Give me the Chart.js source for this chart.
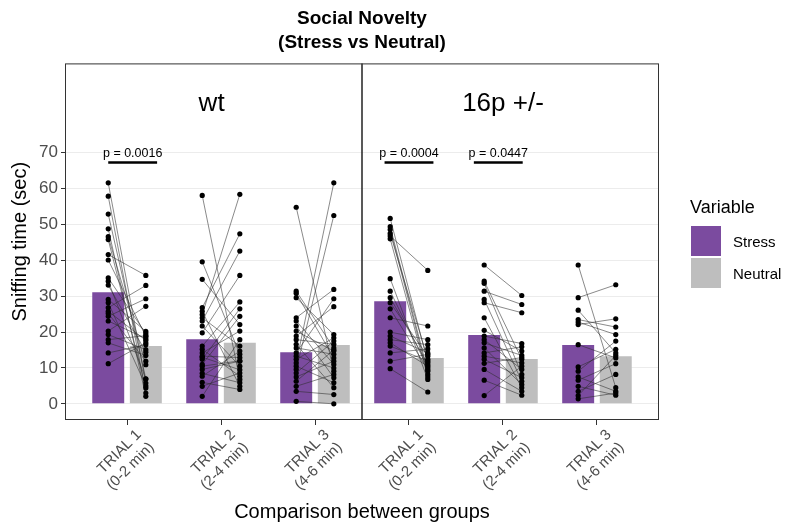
<!DOCTYPE html>
<html>
<head>
<meta charset="utf-8">
<title>Social Novelty (Stress vs Neutral)</title>
<script src="https://cdn.jsdelivr.net/npm/chart.js@4.4.0/dist/chart.umd.min.js"></script>
<style>
  body { margin: 0; background: #fff; }
  #wrap { position: relative; width: 785px; height: 529px; font-family: "Liberation Sans", Arial, sans-serif; }
  #legend { position: absolute; left: 690px; top: 196px; color: #000; }
  #legend .ltitle { font-size: 18px; line-height: 22px; height: 30px; }
  #legend .item { display: flex; align-items: center; height: 30px; margin-bottom: 2px; font-size: 15px; }
  #legend .key { width: 30px; height: 30px; margin-left: 1px; margin-right: 12px; }
</style>
</head>
<body>
<div id="wrap">
  <canvas id="chart" width="785" height="529"></canvas>
  <div id="legend">
    <div class="ltitle">Variable</div>
    <div class="item"><span class="key" id="keyStress"></span>Stress</div>
    <div class="item"><span class="key" id="keyNeutral"></span>Neutral</div>
  </div>
</div>
<script>
// x categories (3 trials per genotype)
const trialLabels = [
  ['TRIAL 1', '(0-2 min)'], ['TRIAL 2', '(2-4 min)'], ['TRIAL 3', '(4-6 min)'],
  ['TRIAL 1', '(0-2 min)'], ['TRIAL 2', '(2-4 min)'], ['TRIAL 3', '(4-6 min)']
];
const groups = ['wt', '16p +/-'];
const groupX = [1.9, 5];
const groupY = 83.5;
const yTicks = [0, 10, 20, 30, 40, 50, 60, 70];

// bar heights (group means)
const meanStress = [31.1, 18.0, 14.4, 28.6, 19.2, 16.4];
const meanNeutral = [16.1, 17.0, 16.4, 12.8, 12.5, 13.3];

// individual animals, stress[i] paired with neutral[i]
const wtT1Stress = [61.6, 57.9, 52.9, 48.8, 46.6, 45.8, 41.6, 40.1, 35.1, 34.2, 33.1, 29.1, 28.2, 26.8, 25.8, 25.2, 24.4, 23.1, 20.3, 19.3, 17.9, 17.0, 14.2, 11.2];
const wtT1Neutral = [5.8, 3.0, 7.0, 2.1, 10.9, 4.4, 35.8, 18.8, 19.6, 6.9, 14.4, 20.2, 5.0, 33.0, 17.7, 11.9, 29.3, 18.2, 27.2, 15.1, 19.0, 13.5, 16.5, 17.0];
const wtT2Stress = [58.1, 39.6, 34.7, 26.8, 25.8, 24.9, 24.0, 23.1, 21.7, 19.8, 16.1, 15.2, 14.2, 13.3, 12.4, 11.0, 9.6, 7.7, 4.9, 2.1, 8.5, 6.0, 13.0, 10.5];
const wtT2Neutral = [6.8, 13.8, 22.1, 47.4, 4.9, 58.4, 16.1, 42.6, 10.5, 35.8, 28.4, 7.7, 20.3, 12.9, 26.5, 24.4, 11.9, 14.7, 8.6, 17.9, 5.9, 4.0, 9.5, 12.0];
const wtT3Stress = [54.8, 31.4, 30.8, 29.6, 24.0, 23.1, 21.7, 20.3, 18.9, 17.9, 16.6, 15.6, 14.2, 13.3, 12.4, 11.4, 10.5, 9.6, 8.6, 7.5, 6.3, 4.9, 3.5, 0.7];
const wtT3Neutral = [9.1, 15.6, 12.8, 19.3, 31.9, 11.0, 7.3, 14.7, 27.1, 16.6, 4.5, 13.8, 29.3, 10.0, 18.4, 61.6, 5.9, 52.5, 17.5, 11.9, 15.0, 8.2, 2.6, 0.0];
const p16T1Stress = [51.7, 49.4, 48.6, 47.5, 46.8, 46.0, 34.9, 31.4, 29.6, 28.2, 26.5, 24.0, 20.0, 18.9, 17.9, 17.0, 16.1, 14.2, 11.9, 9.8];
const p16T1Neutral = [11.6, 9.1, 8.2, 12.4, 37.2, 7.5, 6.8, 10.0, 11.0, 13.3, 9.5, 21.7, 17.9, 14.2, 16.5, 10.5, 12.0, 15.3, 13.8, 3.3];
const p16T2Stress = [38.7, 34.2, 33.6, 31.4, 29.1, 28.2, 24.0, 20.5, 18.9, 17.9, 17.0, 15.6, 14.2, 13.3, 12.4, 11.3, 9.6, 6.6, 2.3];
const p16T2Neutral = [30.2, 12.4, 8.2, 27.7, 6.3, 25.4, 4.5, 14.7, 16.8, 9.6, 13.5, 5.4, 15.9, 11.4, 7.3, 12.9, 3.5, 2.4, 10.5];
const p16T3Stress = [38.7, 29.6, 26.1, 23.5, 22.8, 22.1, 16.5, 10.3, 9.1, 7.5, 6.6, 4.9, 3.5, 2.3, 1.4];
const p16T3Neutral = [4.5, 33.2, 14.2, 21.4, 19.3, 23.7, 12.8, 15.2, 17.5, 3.5, 11.2, 2.4, 8.2, 13.5, 3.0];

// significance brackets (centre on x scale)
const pCenters = [1.06, 4.0, 4.95];
const pLabels = ['p = 0.0016', 'p = 0.0004', 'p = 0.0447'];
const pHeight = 67.3;

const purple = '#7B4B9F';
const grey = '#BEBEBE';
const dodge = 0.2;

document.getElementById('keyStress').style.background = purple;
document.getElementById('keyNeutral').style.background = grey;

// build paired points / lines
const pairs = [
  [wtT1Stress, wtT1Neutral], [wtT2Stress, wtT2Neutral], [wtT3Stress, wtT3Neutral],
  [p16T1Stress, p16T1Neutral], [p16T2Stress, p16T2Neutral], [p16T3Stress, p16T3Neutral]
];
const linePts = [];
const dotPts = [];
pairs.forEach(([s, n], i) => {
  const x = i + 1;
  s.forEach((v, j) => {
    linePts.push({ x: x - dodge, y: v }, { x: x + dodge, y: n[j] }, { x: x, y: null });
    dotPts.push({ x: x - dodge, y: v }, { x: x + dodge, y: n[j] });
  });
});

const sigPts = [];
pCenters.forEach(c => {
  sigPts.push({ x: c - 0.26, y: pHeight }, { x: c + 0.26, y: pHeight }, { x: c, y: null });
});

// text inside the panel + panel border
const annotate = {
  id: 'annotate',
  afterDatasetsDraw(chart) {
    const { ctx, chartArea, scales: { x, y } } = chart;
    ctx.save();
    ctx.strokeStyle = '#333';
    ctx.lineWidth = 1;
    ctx.strokeRect(chartArea.left + 0.5, chartArea.top + 0.5, chartArea.width - 1, chartArea.height - 1);

    ctx.fillStyle = '#000';
    ctx.textAlign = 'center';
    ctx.textBaseline = 'middle';
    ctx.font = '26px "Liberation Sans", Arial, sans-serif';
    groups.forEach((g, i) => ctx.fillText(g, x.getPixelForValue(groupX[i]), y.getPixelForValue(groupY)));

    ctx.textBaseline = 'bottom';
    ctx.font = '12.5px "Liberation Sans", Arial, sans-serif';
    pCenters.forEach((c, i) => ctx.fillText(pLabels[i], x.getPixelForValue(c), y.getPixelForValue(pHeight) - 3));
    ctx.restore();
  }
};

Chart.defaults.font.family = '"Liberation Sans", Arial, sans-serif';

const ctx = document.getElementById('chart').getContext('2d');
new Chart(ctx, {
  type: 'bar',
  data: {
    datasets: [
      {
        type: 'scatter', label: 'animals', data: dotPts,
        pointRadius: 2.6, pointBackgroundColor: '#000', pointBorderWidth: 0, order: 0
      },
      {
        type: 'line', label: 'pairs', data: linePts,
        borderColor: 'rgba(45,45,45,0.8)', borderWidth: 0.7, pointRadius: 0, spanGaps: false, order: 1
      },
      {
        type: 'line', label: 'sig', data: sigPts,
        borderColor: '#000', borderWidth: 2.5, pointRadius: 0, spanGaps: false, order: 1
      },
      {
        type: 'line', label: 'divider', data: [{ x: 3.5, y: -10 }, { x: 3.5, y: 100 }],
        borderColor: '#222', borderWidth: 1.5, pointRadius: 0, order: 1
      },
      {
        label: 'Stress', data: meanStress.map((v, i) => ({ x: i + 1, y: v })),
        backgroundColor: purple, categoryPercentage: 0.8, barPercentage: 0.85, order: 3
      },
      {
        label: 'Neutral', data: meanNeutral.map((v, i) => ({ x: i + 1, y: v })),
        backgroundColor: grey, categoryPercentage: 0.8, barPercentage: 0.85, order: 3
      }
    ]
  },
  options: {
    responsive: false,
    animation: false,
    events: [],
    layout: { padding: { left: 0, right: 126, top: 2, bottom: 0 } },
    plugins: {
      legend: { display: false },
      tooltip: { enabled: false },
      title: {
        display: true,
        text: ['Social Novelty', '(Stress vs Neutral)'],
        fullSize: false,
        color: '#000',
        font: { size: 19, weight: 'bold', lineHeight: 1.3 },
        padding: { top: 4, bottom: 8 }
      }
    },
    scales: {
      x: {
        type: 'linear',
        offset: false,
        min: 0.34,
        max: 6.66,
        afterBuildTicks: s => { s.ticks = trialLabels.map((_, i) => ({ value: i + 1 })); },
        afterFit: s => { s.height = 109; },
        grid: { offset: false, drawOnChartArea: false, tickLength: 5, tickColor: '#333' },
        border: { display: false },
        ticks: {
          callback: v => trialLabels[v - 1],
          autoSkip: false, minRotation: 45, maxRotation: 45,
          color: '#4d4d4d', font: { size: 15 }, padding: 1, labelOffset: 12
        },
        title: {
          display: true, text: 'Comparison between groups', color: '#000',
          font: { size: 20 }, padding: { top: 0, bottom: 5 }
        }
      },
      y: {
        min: -4.5,
        max: 94.9,
        afterBuildTicks: s => { s.ticks = yTicks.map(v => ({ value: v })); },
        afterFit: s => { s.width = 65; },
        grid: { color: '#ececec', tickLength: 4, tickColor: '#333' },
        border: { display: false },
        ticks: { color: '#4d4d4d', font: { size: 17 }, padding: 3 },
        title: {
          display: true, text: 'Sniffing time (sec)', color: '#000',
          font: { size: 20 }, padding: { top: 8, bottom: 0 }
        }
      }
    }
  },
  plugins: [annotate]
});
</script>
</body>
</html>
